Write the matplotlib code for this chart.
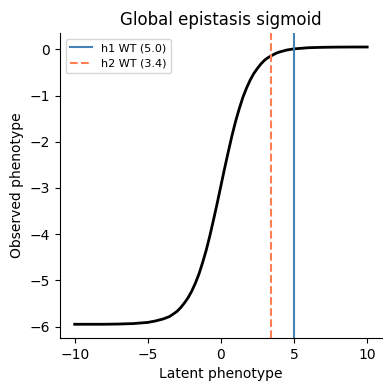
import numpy as np
import matplotlib
matplotlib.use('Agg')
import matplotlib.pyplot as plt

# sigmoid 曲线点
latent = [-10, -9, -8, -7, -6, -5, -4.5, -4, -3.75, -3.5, -3.25, -3, -2.75, -2.5,
          -2.25, -2, -1.75, -1.5, -1.25, -1, -0.75, -0.5, -0.25, 0, 0.25, 0.5,
          0.75, 1, 1.25, 1.5, 1.75, 2, 2.25, 2.5, 2.75, 3, 3.25, 3.5, 3.75, 4,
          4.5, 5, 6, 7, 8, 9, 10]
observed = [-5.95, -5.95, -5.95, -5.945, -5.935, -5.91, -5.88, -5.84, -5.812, -5.78,
            -5.726, -5.67, -5.589, -5.49, -5.378, -5.235, -5.062, -4.86, -4.612,
            -4.34, -4.024, -3.68, -3.322, -2.95, -2.578, -2.22, -1.876, -1.56,
            -1.288, -1.04, -0.838, -0.665, -0.522, -0.41, -0.311, -0.23, -0.174,
            -0.13, -0.088, -0.058, -0.015, 0.01, 0.035, 0.044, 0.048, 0.05, 0.05]

# 野生型的潜在表型位置
wt_labels = ['h1 WT (5.0)', 'h2 WT (3.4)']
wt_values = [5.0, 3.4]

fig, ax = plt.subplots(figsize=(3.9, 3.9), dpi=100)
ax.plot(latent, observed, color='black', lw=2)
ax.axvline(wt_values[0], color='steelblue', lw=1.5, label=wt_labels[0])
ax.axvline(wt_values[1], color='coral', lw=1.5, ls='--', label=wt_labels[1])
ax.set_xlabel('Latent phenotype')
ax.set_ylabel('Observed phenotype')
ax.set_title('Global epistasis sigmoid')
ax.legend(loc='upper left', fontsize=8)
ax.spines['top'].set_visible(False)
ax.spines['right'].set_visible(False)
plt.subplots_adjust(left=0.154, right=0.979, top=0.915, bottom=0.133)
plt.savefig('out.png')
